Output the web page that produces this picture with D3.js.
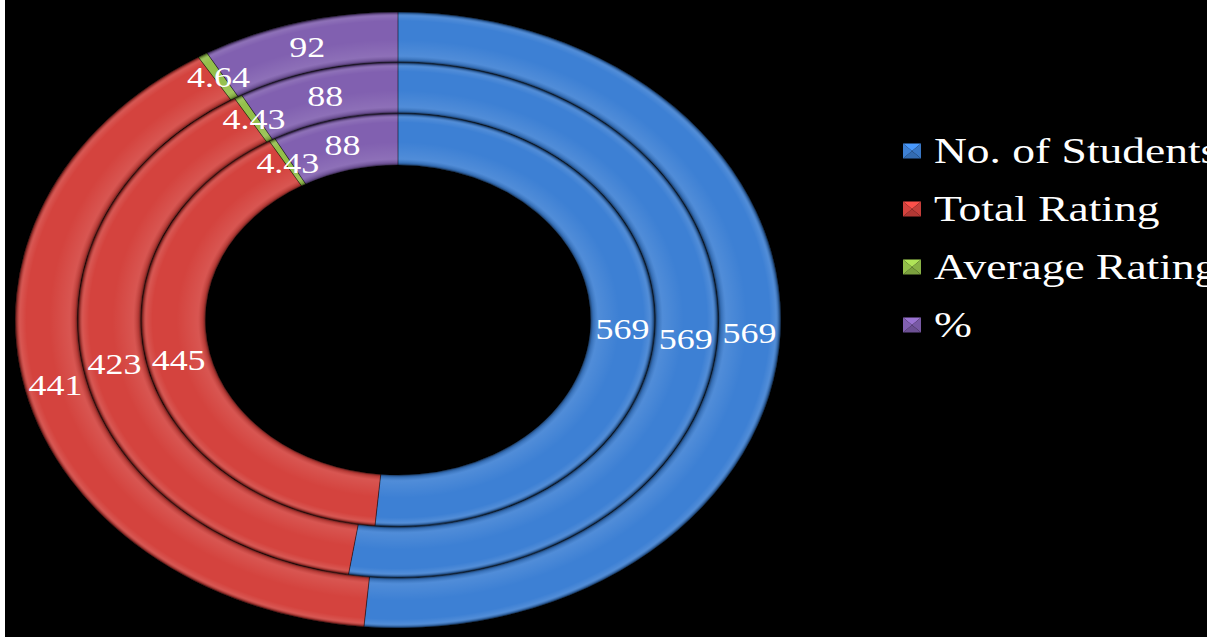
<!DOCTYPE html>
<html>
<head>
<meta charset="utf-8">
<script src="https://cdn.jsdelivr.net/npm/d3@7"></script>
<style>
  html, body { margin: 0; padding: 0; background: #ffffff; }
  svg { display: block; }
</style>
</head>
<body>
<svg id="chart" width="1217" height="637"></svg>
<script>
// ---- data ----
const categories = ["No. of Students", "Total Rating", "Average Rating", "%"];
const outerValues  = [569, 441, 4.64, 92];
const middleValues = [569, 423, 4.43, 88];
const innerValues  = [569, 445, 4.43, 88];
const valueLabels = {
  outer:  ["569", "441", "4.64", "92"],
  middle: ["569", "423", "4.43", "88"],
  inner:  ["569", "445", "4.43", "88"]
};
const colors = ["#3d80d4", "#d4433e", "#93bf4a", "#8160b0"];

// ---- layout ----
const W = 1217, H = 637;
const cx = 398, cy = 320;
const sx = 1.243;          // horizontal stretch of the picture
const rings = [
  { key: "outer",  values: outerValues,  r0: 258, r1: 308 },
  { key: "middle", values: middleValues, r0: 207, r1: 257.5 },
  { key: "inner",  values: innerValues,  r0: 155, r1: 206.5 }
];

const svg = d3.select("#chart");
svg.append("rect").attr("x", 5).attr("y", 0).attr("width", 1202).attr("height", H).attr("fill", "#000");

const defs = svg.append("defs");
const bevel = defs.append("radialGradient").attr("id", "bevel")
  .attr("gradientUnits", "userSpaceOnUse").attr("cx", 0).attr("cy", 0).attr("r", 310);
rings.slice().reverse().forEach(r => {
  const f = v => (v / 310);
  const t = r.r1 - r.r0;
  [[r.r0, "#000", 0.5], [r.r0 + 2, "#000", 0.15], [r.r0 + 6, "#fff", 0.10],
   [r.r0 + t * 0.45, "#fff", 0.0], [r.r1 - 9, "#fff", 0.0], [r.r1 - 4, "#fff", 0.10],
   [r.r1 - 1.5, "#000", 0.25], [r.r1, "#000", 0.6]].forEach(s => {
    bevel.append("stop").attr("offset", f(s[0])).attr("stop-color", s[1]).attr("stop-opacity", s[2]);
  });
});

const g = svg.append("g").attr("transform", `translate(${cx},${cy}) scale(${sx},1)`);
const pie = d3.pie().sort(null).value(d => d);

rings.forEach(ring => {
  const arcs = pie(ring.values);
  const arc = d3.arc().innerRadius(ring.r0).outerRadius(ring.r1);
  const rg = g.append("g");
  rg.selectAll("path.seg").data(arcs).enter().append("path")
    .attr("class", "seg")
    .attr("d", arc)
    .attr("fill", (d, i) => colors[i]);
  rg.selectAll("path.bev").data(arcs).enter().append("path")
    .attr("class", "bev")
    .attr("d", arc)
    .attr("fill", "url(#bevel)")
    .attr("stroke", "rgba(0,0,0,0.35)")
    .attr("stroke-width", 0.8)
    .attr("vector-effect", "non-scaling-stroke");
  ring.arcs = arcs;
});

// ---- value labels ----
const lg = svg.append("g");
rings.forEach(ring => {
  const mid = (ring.r0 + ring.r1) / 2;
  const labArc = d3.arc().innerRadius(mid).outerRadius(mid);
  ring.arcs.forEach((d, i) => {
    const c = labArc.centroid(d);
    lg.append("text")
      .attr("transform", `translate(${cx + c[0] * sx},${cy + c[1]}) scale(1.2,1)`)
      .attr("text-anchor", "middle")
      .attr("dy", "0.35em")
      .attr("font-family", "'Liberation Serif', 'Times New Roman', serif")
      .attr("font-size", 30)
      .attr("fill", "#fff")
      .text(valueLabels[ring.key][i]);
  });
});

// ---- legend ----
const leg = svg.append("g");
categories.forEach((c, i) => {
  const y = 151 + i * 58;
  const x0 = 903, w = 18, h = 15;
  const base = d3.color(colors[i]);
  const tri = [
    [[x0, y - h / 2], [x0 + w, y - h / 2], [x0 + w / 2, y]],
    [[x0 + w, y - h / 2], [x0 + w, y + h / 2], [x0 + w / 2, y]],
    [[x0, y + h / 2], [x0 + w, y + h / 2], [x0 + w / 2, y]],
    [[x0, y - h / 2], [x0, y + h / 2], [x0 + w / 2, y]]
  ];
  const shades = [base.brighter(0.5), base.darker(0.2), base.darker(0.5), base];
  tri.forEach((t, k) => {
    leg.append("path").attr("d", d3.line()(t) + "Z").attr("fill", shades[k]);
  });
  leg.append("text")
    .attr("transform", `translate(934,${y}) scale(1.3,1)`)
    .attr("dy", "0.35em")
    .attr("font-family", "'Liberation Serif', 'Times New Roman', serif")
    .attr("font-size", 35)
    .attr("fill", "#fff")
    .text(c);
});
</script>
</body>
</html>
